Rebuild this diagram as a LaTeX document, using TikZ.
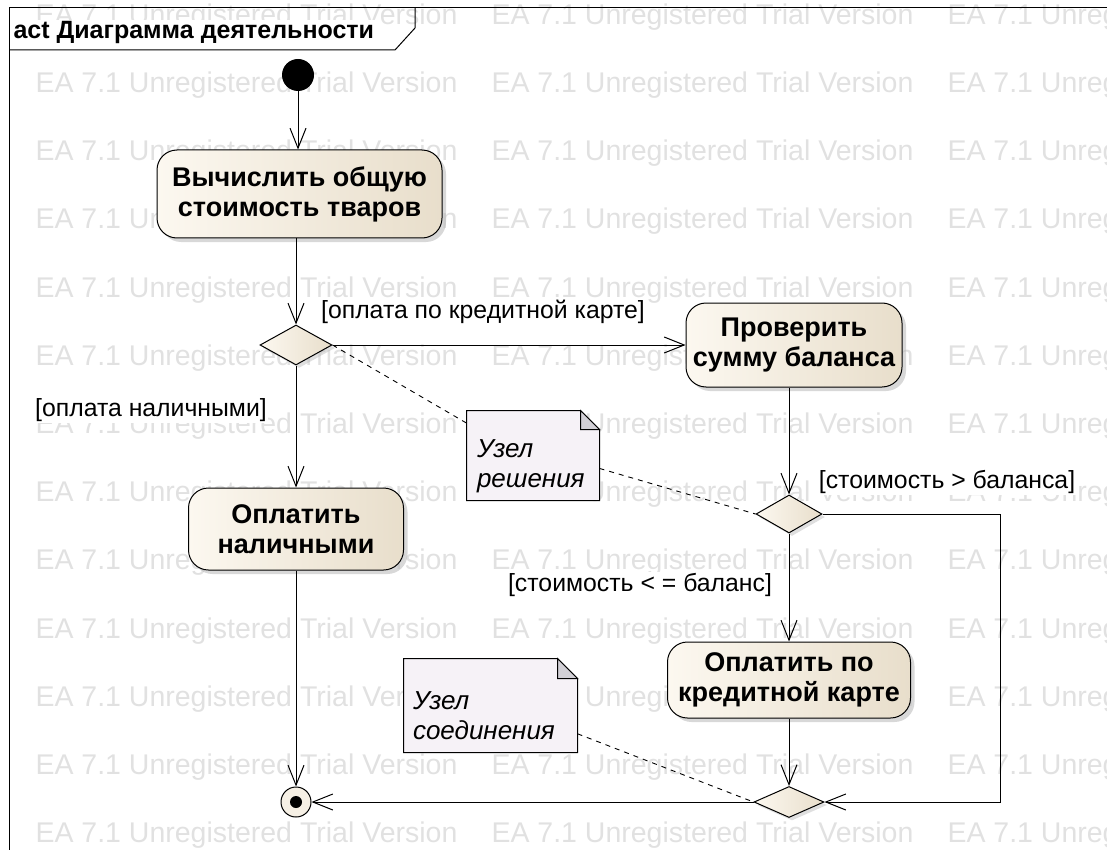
\documentclass[tikz,border=0pt]{standalone}
\usepackage{fontspec}
\setmainfont{Liberation Sans}
\usepackage{xcolor}
\usepackage{tikz}
\usetikzlibrary{arrows.meta, positioning, shapes, shadows}

\definecolor{actlight}{RGB}{252,248,240}
\definecolor{actdark}{RGB}{232,222,203}
\definecolor{notefill}{RGB}{246,242,247}
\definecolor{foldfill}{RGB}{210,208,214}
\definecolor{wmgray}{RGB}{225,225,225}

\tikzset{
    wmark/.style={text=wmgray, inner sep=0pt, anchor=west, font=\fontsize{28.5}{30}\selectfont},
    titlu/.style={fill=white, inner sep=1pt, anchor=west, font=\bfseries\fontsize{25}{28}\selectfont},
    actiune/.style={draw, rounded corners=20pt, left color=actlight, right color=actdark, align=center,
        font=\bfseries\fontsize{27}{30}\selectfont,
        drop shadow={shadow xshift=4pt, shadow yshift=-4pt, fill=black!30}},
    decizie/.style={draw, diamond, inner sep=0pt, left color=actlight, right color=actdark,
        drop shadow={shadow xshift=3pt, shadow yshift=-3pt, fill=black!25}},
    garda/.style={fill=white, inner sep=1pt, font=\fontsize{24.8}{28}\selectfont},
    nota/.style={inner sep=0pt},
    notatext/.style={anchor=west, align=left, inner sep=0pt, font=\itshape\fontsize{26}{30}\selectfont},
    legatura/.style={dashed, dash pattern=on 5pt off 5pt, line width=0.9pt},
}

% colt indoit al notei
\newcommand{\dogear}[2]{%
    \draw[fill=notefill] (#1.north west) -- ([xshift=-#2]#1.north east) -- ([yshift=-#2]#1.north east)
        -- (#1.south east) -- (#1.south west) -- cycle;
    \draw[fill=foldfill] ([xshift=-#2]#1.north east) -- ([yshift=-#2]#1.north east)
        -- ([xshift=-#2, yshift=-#2]#1.north east) -- cycle;
}

\begin{document}
\begin{tikzpicture}[x=1pt, y=-1pt, line width=1pt, >={Straight Barb[length=20pt, width=16pt]}]
    \useasboundingbox (0,0) rectangle (1107,850);
    \clip (0,0) rectangle (1107,850);

    % Водяной знак
    \foreach \r in {0,...,12}
        \foreach \c in {35,491,947}
            \node[wmark] (wm-\r-\c) at (\c, {17+68.2*\r}) {EA 7.1 Unregistered Trial Version};

    % Рамка
    \draw (9,850) -- (9,8) -- (1107,8);
    \draw (9,50) -- (395,50) -- (415,28) -- (415,8);
    \node[titlu] (titlu) at (12,32) {act Диаграмма деятельности};

    % Узлы
    \node[circle, fill=black, minimum size=32pt, inner sep=0pt] (init) at (298,75) {};
    \node[actiune, minimum width=285pt, minimum height=88pt] (a1) at (299.5,194) {Вычислить общую\\стоимость тваров};
    \node[decizie, minimum width=72pt, minimum height=40pt] (d1) at (296,345) {};
    \node[actiune, minimum width=216pt, minimum height=84pt] (a2) at (794,345) {Проверить\\сумму баланса};
    \node[actiune, minimum width=215pt, minimum height=82pt] (a4) at (296,529) {Оплатить\\наличными};
    \node[decizie, minimum width=66pt, minimum height=38pt] (d2) at (789,514) {};
    \node[actiune, minimum width=243pt, minimum height=76pt] (a3) at (789,680) {Оплатить по\\кредитной карте};
    \node[decizie, minimum width=70pt, minimum height=31pt] (d3) at (789,802) {};
    \node[circle, draw, fill=actlight!70!actdark, minimum size=30pt, inner sep=0pt,
        path picture={\fill[black] (path picture bounding box.center) circle (6pt);}] (fin) at (296,802) {};
    \coordinate (k1) at (1000,514);
    \coordinate (k2) at (1000,802);

    % Переходы
    \draw[->] (init) -- (init |- a1.north);
    \draw[->] (a1.south -| d1) -- (d1);
    \draw[->] (d1) -- (a2);
    \draw[->] (d1) -- (a4);
    \draw[->] (a2.south -| d2) -- (d2);
    \draw[->] (d2) -- (a3);
    \draw[->] (d2.east) -- (k1) -- (k2) -- (d3.east);
    \draw[->] (a3) -- (d3);
    \draw[->] (a4) -- (fin);
    \draw[->] (d3) -- (fin);

    % Условия
    \node[garda] (g1) at (483,312) {[оплата по кредитной карте]};
    \node[garda] (g2) at (151,410) {[оплата наличными]};
    \node[garda] (g3) at (947,482) {[стоимость > баланса]};
    \node[garda] (g4) at (640,585) {[стоимость < = баланс]};

    % Примечания
    \node[nota, minimum width=132pt, minimum height=89pt] (n1) at (533,455.5) {};
    \dogear{n1}{19pt}
    \node[notatext] (n1t) at ([xshift=10pt, yshift=-11pt]n1.west) {Узел\\решения};
    \node[nota, minimum width=173pt, minimum height=93pt] (n2) at (490.5,705.5) {};
    \dogear{n2}{20pt}
    \node[notatext] (n2t) at ([xshift=9pt, yshift=-10pt]n2.west) {Узел\\соединения};
    \draw[legatura] (d1.east) -- (n1.154);
    \draw[legatura] (n1.349) -- (d2.west);
    \draw[legatura] (n2.342) -- (d3.west);
\end{tikzpicture}
\end{document}
